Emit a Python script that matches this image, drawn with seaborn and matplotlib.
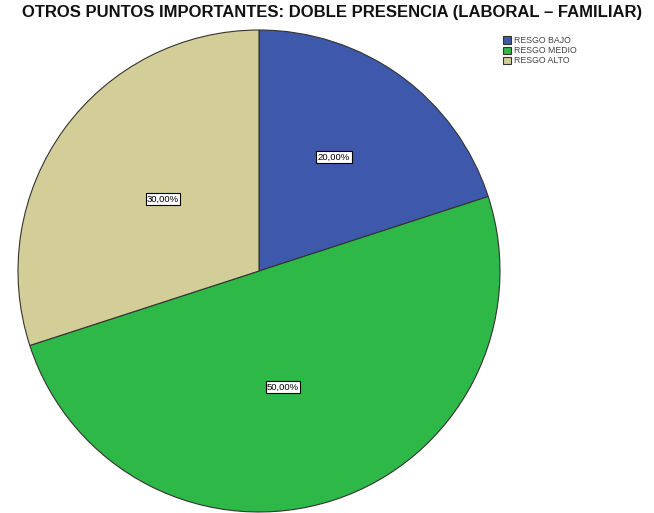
import matplotlib
matplotlib.use("Agg")
import matplotlib.pyplot as plt
import seaborn as sns

sns.set_theme(style="white")
plt.rcParams['font.family'] = ['Liberation Sans', 'DejaVu Sans']

categories = ["RESGO BAJO", "RESGO MEDIO", "RESGO ALTO"]
values = [20.0, 50.0, 30.0]
colors = ["#3E58AC", "#2EB848", "#D3CE97"]
title = "OTROS PUNTOS IMPORTANTES: DOBLE PRESENCIA (LABORAL – FAMILIAR)"

W, H = 654, 513
fig = plt.figure(figsize=(W / 100, H / 100), dpi=100)
fig.patch.set_facecolor("white")

cx, cy, r = 259, 271, 241
ax = fig.add_axes([(cx - r) / W, (H - cy - r) / H, 2 * r / W, 2 * r / H])
wedges, _ = ax.pie(values, colors=colors, startangle=90, counterclock=False,
                   radius=1.0, wedgeprops=dict(edgecolor="#333333", linewidth=0.8))
ax.set_xlim(-1, 1)
ax.set_ylim(-1, 1)
ax.set_aspect("equal")
ax.axis("off")

# percentage labels at the positions seen in the chart
label_pos = [(334, 157), (283, 387), (163, 199)]
for (px, py), v in zip(label_pos, values):
    x = (px - cx) / r
    y = (cy - py) / r
    ax.text(x, y, f"{v:.2f}%".replace(".", ","), ha="center", va="center",
            fontsize=6.8, color="black",
            bbox=dict(boxstyle="square,pad=0.15", facecolor="white",
                      edgecolor="black", linewidth=0.8))

fig.text(332 / W, 1 - 13 / H, title, ha="center", va="center",
         fontsize=12, fontweight="bold", color="#111111")

# legend
leg = fig.legend(wedges, categories, loc="upper left",
                 bbox_to_anchor=(497 / W, 1 - 30 / H), frameon=False,
                 fontsize=6.3, handlelength=0.9, handleheight=0.9,
                 handletextpad=0.3, labelspacing=0.12, borderpad=0.2)
for t in leg.get_texts():
    t.set_color("#444444")

fig.savefig("out.png", dpi=100, facecolor="white")
